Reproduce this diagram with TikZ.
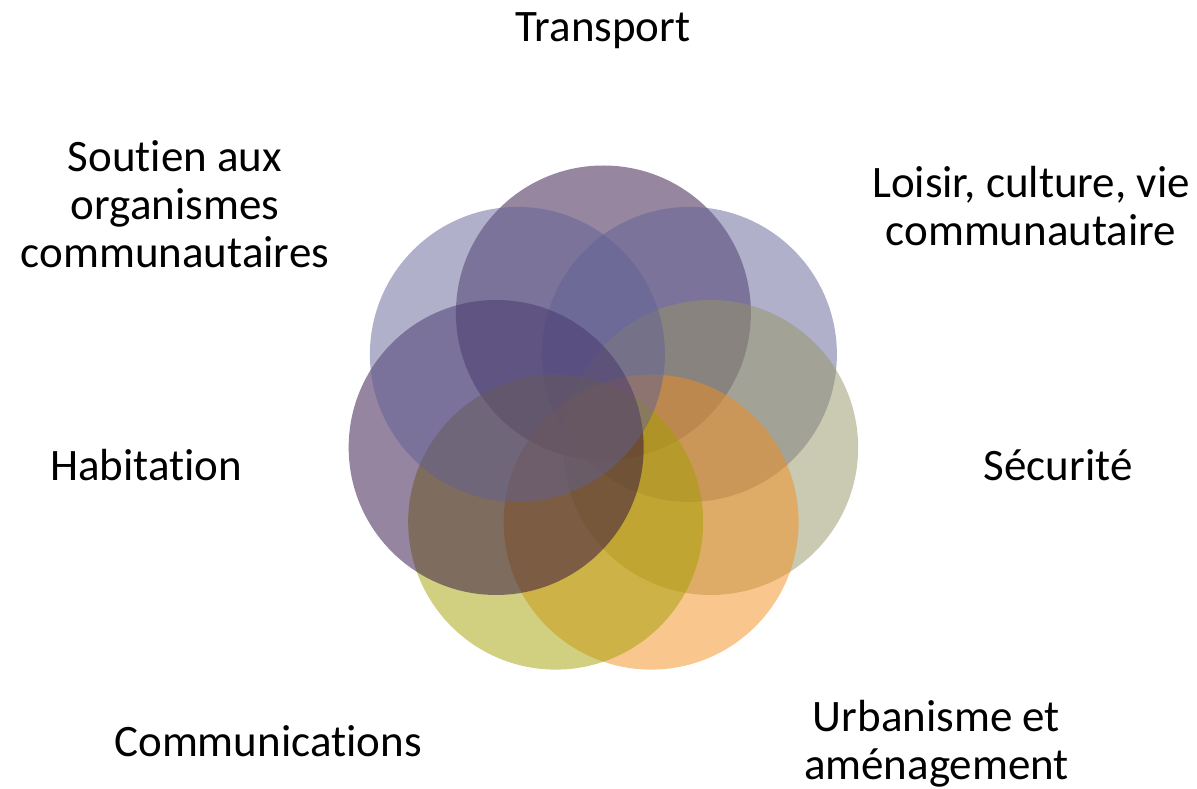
\documentclass[tikz,border=0pt]{standalone}
\usepackage{fontspec}
\setmainfont{Carlito}
\usetikzlibrary{calc}
\definecolor{transportcol}{RGB}{47,13,65}
\definecolor{loisircol}{RGB}{97,97,149}
\definecolor{securitecol}{RGB}{149,149,101}
\definecolor{urbanismecol}{RGB}{243,143,29}
\definecolor{communicol}{RGB}{163,159,1}
\definecolor{habitationcol}{RGB}{45,11,65}
\definecolor{soutiencol}{RGB}{97,97,149}
% no ti ligature
\newcommand{\ti}{t\kern0pt i}
\tikzset{
	bubble/.style={
		circle, minimum size=295pt, inner sep=0pt, draw=none, fill opacity=0.5,
	},
	theme/.style={
		font=\fontsize{45}{48}\selectfont, align=center, inner sep=0pt, text=black,
	}
}

\begin{document}
\begin{tikzpicture}[x=1pt, y=1pt]
	\useasboundingbox (0,0) rectangle (1197,788);
	\coordinate (hub) at (603.4,365);
	\foreach \name/\col [count=\i from 0] in {transport/transportcol, loisir/loisircol, securite/securitecol, urbanisme/urbanismecol, communications/communicol, habitation/habitationcol, soutien/soutiencol}
		\node[bubble, fill=\col] (c-\name) at ($(hub)+({90-\i*360/7}:110)$) {};
	\node[theme] (t-transport) at (603,755.6) {\strut Transport};
	\node[theme] (t-loisir) at (1031,575.6) {\strut Loisir, culture, vie\\\strut communautaire};
	\node[theme] (t-securite) at (1058,316.6) {\strut Sécurité};
	\node[theme] (t-urbanisme) at (936.5,42.6) {\strut Urbanisme et\\\strut aménagement};
	\node[theme] (t-communications) at (268,41.6) {\strut Communica\ti ons};
	\node[theme] (t-habitation) at (146,316.6) {\strut Habita\ti on};
	\node[theme] (t-soutien) at (175,577.6) {\strut Sou\ti en aux\\\strut organismes\\\strut communautaires};
\end{tikzpicture}
\end{document}
